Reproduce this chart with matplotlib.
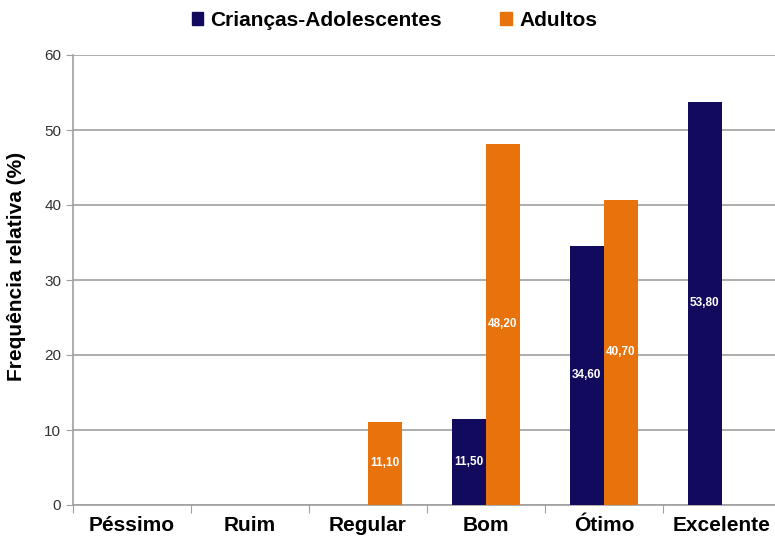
import numpy as np
import matplotlib
matplotlib.use("Agg")
import matplotlib.pyplot as plt
from matplotlib.patches import Patch

categories = ["Péssimo", "Ruim", "Regular", "Bom", "Ótimo", "Excelente"]
criancas = [0, 0, 0, 11.5, 34.6, 53.8]
adultos = [0, 0, 11.1, 48.2, 40.7, 0]
series_names = ["Crianças-Adolescentes", "Adultos"]
colors = ["#120a5c", "#e8720c"]

plt.rcParams["font.family"] = ["Liberation Sans", "DejaVu Sans"]

fig = plt.figure(figsize=(7.75, 5.43), dpi=100)
# axes runs a bit past the right edge, like the cropped original
ax = fig.add_axes([73 / 775, 38 / 543, 708 / 775, 450 / 543])

x = np.arange(len(categories))
w = 0.29
for vals, off, c in [(criancas, -w / 2, colors[0]), (adultos, w / 2, colors[1])]:
    for xi, v in zip(x, vals):
        if v <= 0:
            continue
        ax.bar(xi + off, v, width=w, color=c, zorder=3)
        ax.text(xi + off, v / 2, f"{v:.2f}".replace(".", ","), color="white",
                ha="center", va="center", fontsize=8.5, fontweight="bold", zorder=4)

ax.set_xlim(-0.5, len(categories) - 0.5)
ax.set_ylim(0, 60)
ax.set_yticks(range(0, 61, 10))
ax.yaxis.grid(True, color="#a0a0a0", linewidth=1.2, zorder=0)
ax.set_xticks(np.arange(len(categories) + 1) - 0.5)
ax.set_xticklabels([])
ax.set_xticks(x, minor=True)
ax.set_xticklabels(categories, minor=True, fontsize=15, fontweight="bold")
ax.tick_params(axis="x", which="minor", length=0, pad=8)
ax.tick_params(axis="x", which="major", length=6, color="#a0a0a0", direction="out")
ax.tick_params(axis="y", length=5, color="#a0a0a0", labelsize=11, labelcolor="#333333")

for s in ["top", "right"]:
    ax.spines[s].set_visible(False)
for s in ["left", "bottom"]:
    ax.spines[s].set_color("#a0a0a0")
    ax.spines[s].set_linewidth(1.2)

ax.set_ylabel("Frequência relativa (%)", fontsize=15, fontweight="bold")
ax.yaxis.set_label_coords(-0.066, 0.53)

handles = [Patch(color=c) for c in colors]
fig.legend(handles, series_names, loc="upper center", bbox_to_anchor=(0.509, 1.015),
           ncol=2, frameon=False, handlelength=0.55, handleheight=0.55,
           handletextpad=0.35, columnspacing=2.8,
           prop={"size": 15, "weight": "bold"})

fig.savefig("out.png", dpi=100)
